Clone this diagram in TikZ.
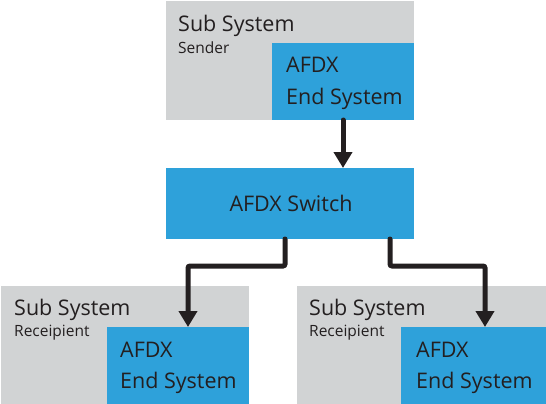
\documentclass[tikz,border=0pt]{standalone}
\usepackage{fontspec}
\setmainfont{Open Sans}
\usetikzlibrary{arrows.meta,calc}
\definecolor{subgray}{HTML}{D1D3D4}
\definecolor{afdxblue}{HTML}{2EA1DA}
\definecolor{arrowdark}{HTML}{231F20}
\begin{document}
\begin{tikzpicture}[x=1pt,y=-1pt,
  box/.style={anchor=north west,inner sep=0pt,outer sep=0pt,draw=none},
  subbox/.style={box,fill=subgray},
  bluebox/.style={box,fill=afdxblue},
  bigtxt/.style={anchor=base west,inner sep=0pt,font=\fontsize{21.5}{25}\selectfont,text=arrowdark},
  smalltxt/.style={anchor=base west,inner sep=0pt,font=\fontsize{15.5}{18}\selectfont,text=arrowdark},
  arr/.style={draw=arrowdark,line width=5pt,line cap=round,rounded corners=2pt,-{Triangle[width=18pt,length=16pt]}}]
\useasboundingbox (0,0) rectangle (546,404);
% top subsystem
\node[subbox,minimum width=248pt,minimum height=119pt] (sub1) at (166,1) {};
\node[bluebox,minimum width=142pt,minimum height=77pt] (es1) at (272,43) {};
\node[bigtxt] (sub1t) at (178,32) {Sub System};
\node[smalltxt] (sub1s) at (178,53) {Sender};
\node[bigtxt] (es1a) at (286,73) {AFDX};
\node[bigtxt] (es1b) at (286,104) {End System};
% switch
\node[bluebox,minimum width=248pt,minimum height=71pt] (sw) at (166,168) {};
\node[anchor=base,inner sep=0pt,font=\fontsize{21.5}{25}\selectfont,text=arrowdark] (swt) at (291,211) {AFDX Switch};
% bottom left
\node[subbox,minimum width=248pt,minimum height=118pt] (sub2) at (1,286) {};
\node[bluebox,minimum width=142pt,minimum height=77pt] (es2) at (107,327) {};
\node[bigtxt] (sub2t) at (14,315) {Sub System};
\node[smalltxt] (sub2s) at (14,336) {Receipient};
\node[bigtxt] (es2a) at (120,357) {AFDX};
\node[bigtxt] (es2b) at (120,388) {End System};
% bottom right
\node[subbox,minimum width=249pt,minimum height=118pt] (sub3) at (297,286) {};
\node[bluebox,minimum width=145pt,minimum height=77pt] (es3) at (401,327) {};
\node[bigtxt] (sub3t) at (309,315) {Sub System};
\node[smalltxt] (sub3s) at (309,336) {Receipient};
\node[bigtxt] (es3a) at (416,357) {AFDX};
\node[bigtxt] (es3b) at (416,388) {End System};
% connectors
\coordinate (l1) at (285,266);
\coordinate (l2) at (188,266);
\coordinate (r1) at (390,266);
\coordinate (r2) at (485,266);
\draw[arr] (es1.south) -- (es1.south |- sw.north);
\draw[arr] (sw.south -| l1) -- (l1) -- (l2) -- (es2.north -| l2);
\draw[arr] (sw.south -| r1) -- (r1) -- (r2) -- (es3.north -| r2);
\end{tikzpicture}
\end{document}
